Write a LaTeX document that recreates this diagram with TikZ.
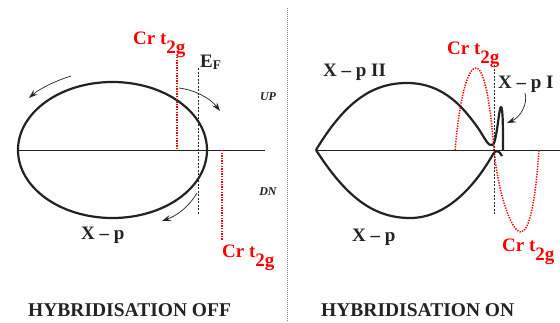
\documentclass[tikz,border=0pt]{standalone}
\usepackage{fontspec}
\setmainfont{Liberation Serif}
\usetikzlibrary{arrows.meta}
\definecolor{crred}{HTML}{FF0000}
\definecolor{inkgray}{HTML}{222222}
\newcommand{\lowsub}[1]{\raisebox{-9pt}{#1}}
\tikzset{
  bandline/.style={line width=2.2pt, inkgray},
  axisline/.style={line width=0.8pt, inkgray},
  crline/.style={crred, line width=1.5pt, dash pattern=on 1.3pt off 1.3pt},
  fermiline/.style={inkgray, line width=0.7pt, dash pattern=on 2pt off 1.5pt},
  spinarrow/.style={-{Stealth[length=9pt, width=6pt, inset=3.5pt]}, line width=0.7pt, inkgray},
  lbl/.style={anchor=base west, inner sep=0pt, text=inkgray, font=\fontsize{19}{21}\selectfont\bfseries},
  redlbl/.style={lbl, text=crred},
  titlelbl/.style={lbl, font=\fontsize{19.5}{22}\selectfont\bfseries},
  spinlbl/.style={inner sep=0pt, text=inkgray, font=\fontsize{12}{14}\selectfont\bfseries\itshape},
}

\begin{document}
\begin{tikzpicture}[x=1pt, y=-1pt]
  \useasboundingbox (0,0) rectangle (560,322);

  % separator between the two panels
  \draw[gray, line width=0.5pt, dash pattern=on 0.8pt off 1.2pt] (287,8) -- (287,322);

  % ---------------- HYBRIDISATION OFF ----------------
  \draw[axisline] (18,150) -- (265,150);
  \draw[bandline] (112.5,150) ellipse [x radius=94.5pt, y radius=68pt];
  \draw[crline] (177,57) -- (177,150);
  \draw[crline] (222,150) -- (222,240);
  \draw[fermiline] (198,68) -- (198,215);

  \node[redlbl] (crupoff) at (133,44) {Cr t\lowsub{2g}};
  \node[lbl] (fermi) at (200,67) {E$_{\mathbf{F}}$};
  \node[redlbl] (crdnoff) at (222,257) {Cr t\lowsub{2g}};
  \node[lbl] (xpoff) at (81,239) {X -- p};
  \node[spinlbl] (up) at (268,97) {UP};
  \node[spinlbl] (dn) at (268,192) {DN};
  \node[titlelbl] (titleoff) at (28,316) {HYBRIDISATION OFF};

  % spin rotation arrows
  \coordinate (tlA) at (71,76);
  \coordinate (tlB) at (29,98);
  \coordinate (trA) at (179,88);
  \coordinate (trB) at (220,111);
  \coordinate (brA) at (197,193);
  \coordinate (brB) at (162,221);
  \draw[spinarrow] (tlA) .. controls (52,82) and (38,90) .. (tlB);
  \draw[spinarrow] (trA) .. controls (195,90) and (210,98) .. (trB);
  \draw[spinarrow] (brA) .. controls (188,208) and (176,216) .. (brB);

  % ---------------- HYBRIDISATION ON ----------------
  \draw[axisline] (316,150) -- (560,150);
  % upper band X-p II with X-p I peak
  \draw[bandline, line join=round] (316,150) .. controls (345,102) and (372,83) .. (407,83)
    .. controls (445,83) and (465,110) .. (478,128)
    .. controls (485,138) and (488,147) .. (493,145)
    .. controls (497,140) and (499,107) .. (501,107)
    .. controls (503,107) and (503,130) .. (503,150);
  % lower band X-p
  \draw[bandline, line join=round] (316,150) .. controls (345,195) and (372,218) .. (410,218)
    .. controls (450,218) and (478,180) .. (492,156)
    .. controls (494,152) and (496,151) .. (497,151)
    .. controls (499,151) and (500,153) .. (502,156);
  % hybridised Cr t2g
  \draw[crline] (455,150) .. controls (460,95) and (468,68) .. (476,68)
    .. controls (485,68) and (491,110) .. (494,150)
    .. controls (498,192) and (511,232) .. (521,232)
    .. controls (530,232) and (536,195) .. (539,150);
  \draw[fermiline] (494,65) -- (494,215);

  \node[redlbl] (crupon) at (447,54) {Cr t\lowsub{2g}};
  \node[redlbl] (crdnon) at (502,251) {Cr t\lowsub{2g}};
  \node[lbl] (xptwo) at (323,76) {X -- p II};
  \node[lbl] (xpone) at (498,88) {X -- p I};
  \node[lbl] (xpon) at (352,241) {X -- p};
  \node[titlelbl] (titleon) at (321,316) {HYBRIDISATION ON};

  \coordinate (peakA) at (525,93);
  \coordinate (peakB) at (507,123);
  \draw[spinarrow] (peakA) .. controls (528,103) and (521,117) .. (peakB);
\end{tikzpicture}
\end{document}
